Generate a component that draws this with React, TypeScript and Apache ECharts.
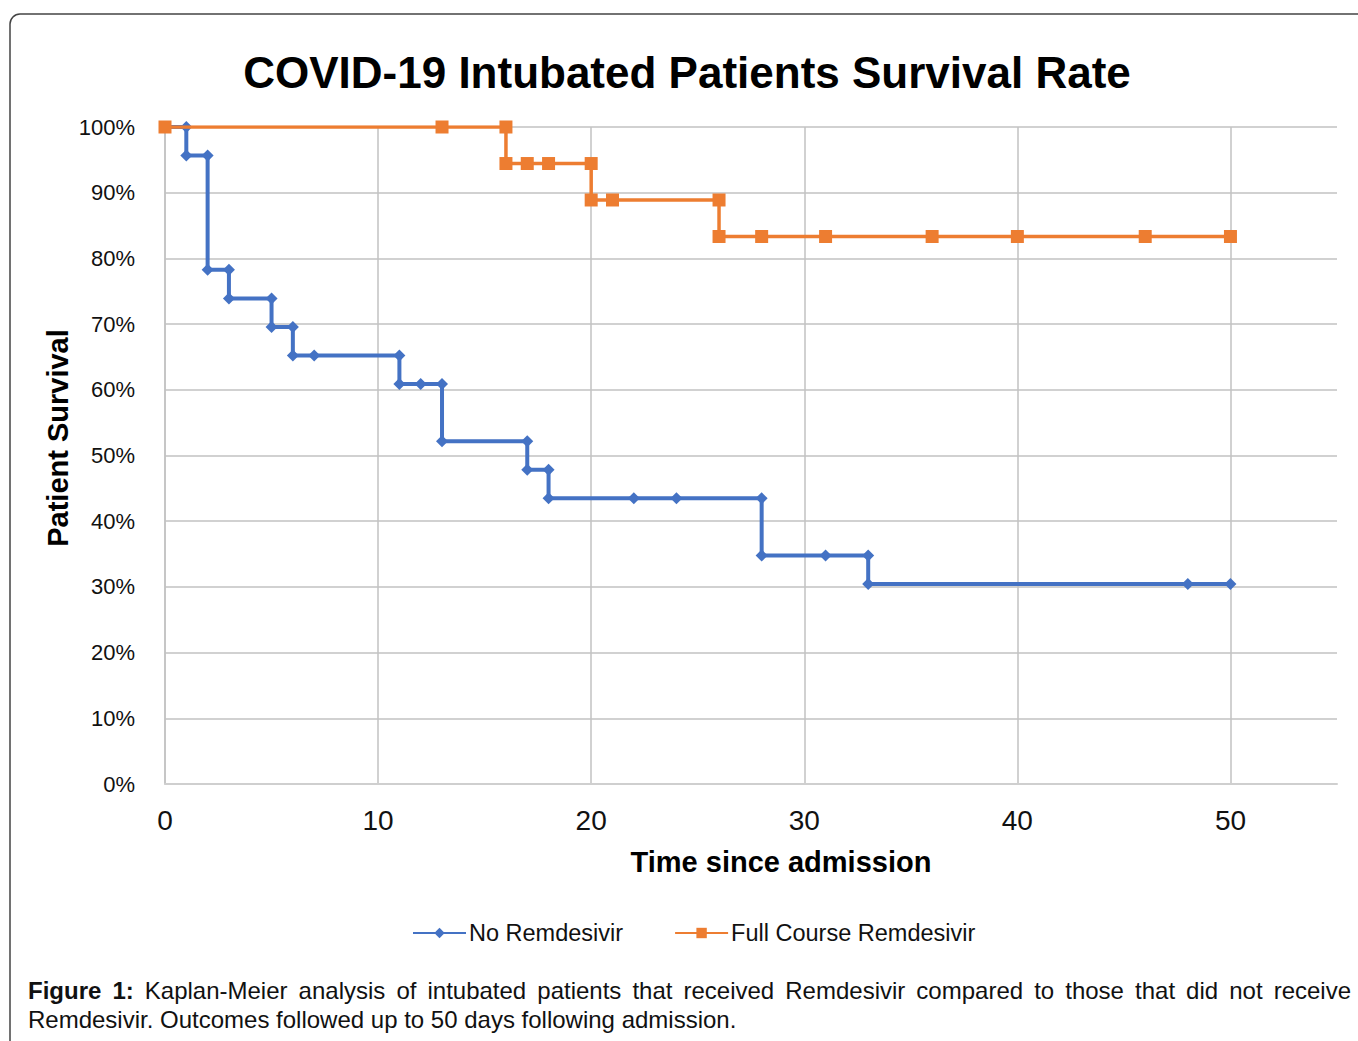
import React, { useEffect, useRef } from "react";
import * as echarts from "echarts";

const chartTitle = "COVID-19 Intubated Patients Survival Rate";
const xAxisTitle = "Time since admission";
const yAxisTitle = "Patient Survival";
const seriesNames = ["No Remdesivir", "Full Course Remdesivir"];

const noRemDays = [0, 1, 1, 2, 2, 3, 3, 5, 5, 6, 6, 7, 11, 11, 12, 13, 13, 17, 17, 18, 18, 22, 24, 28, 28, 31, 33, 33, 48, 50];
const noRemSurv = [100, 100, 95.65, 95.65, 78.26, 78.26, 73.91, 73.91, 69.57, 69.57, 65.22, 65.22, 65.22, 60.87, 60.87, 60.87, 52.17, 52.17, 47.83, 47.83, 43.48, 43.48, 43.48, 43.48, 34.78, 34.78, 34.78, 30.43, 30.43, 30.43];

const fullDays = [0, 13, 16, 16, 17, 18, 20, 20, 21, 26, 26, 28, 31, 36, 40, 46, 50];
const fullSurv = [100, 100, 100, 94.44, 94.44, 94.44, 94.44, 88.89, 88.89, 88.89, 83.33, 83.33, 83.33, 83.33, 83.33, 83.33, 83.33];

const xMin = 0;
const xMax = 55;
const xStep = 10;
const yMin = 0;
const yMax = 100;
const yStep = 10;

const captionBold = "Figure 1:";
const captionLine1 = "Kaplan-Meier analysis of intubated patients that received Remdesivir compared to those that did not receive";
const captionLine2 = "Remdesivir. Outcomes followed up to 50 days following admission.";

const FONT = "'Liberation Sans', Arial, Helvetica, sans-serif";

function buildCaption(): any[] {
  const size = 24;
  const left = 28;
  const right = 1351;
  const y1 = 990;
  const y2 = 1019;
  const canvas = document.createElement("canvas");
  const ctx = canvas.getContext("2d") as CanvasRenderingContext2D;
  const words: { t: string; bold: boolean; w: number }[] = [];
  captionBold.split(" ").forEach((t) => {
    ctx.font = `bold ${size}px ${FONT}`;
    words.push({ t, bold: true, w: ctx.measureText(t).width });
  });
  captionLine1.split(" ").forEach((t) => {
    ctx.font = `${size}px ${FONT}`;
    words.push({ t, bold: false, w: ctx.measureText(t).width });
  });
  const total = words.reduce((s, w) => s + w.w, 0);
  const gap = (right - left - total) / (words.length - 1);
  const els: any[] = [];
  let x = left;
  words.forEach((w) => {
    els.push({
      type: "text",
      x,
      y: y1,
      style: {
        text: w.t,
        font: `${w.bold ? "bold " : ""}${size}px ${FONT}`,
        fill: "#111",
        verticalAlign: "middle",
      },
    });
    x += w.w + gap;
  });
  els.push({
    type: "text",
    x: left,
    y: y2,
    style: {
      text: captionLine2,
      font: `${size}px ${FONT}`,
      fill: "#111",
      verticalAlign: "middle",
    },
  });
  return els;
}

export default function App() {
  const ref = useRef<HTMLDivElement>(null);
  useEffect(() => {
    if (!ref.current) return;
    const chart = echarts.init(ref.current, undefined, { renderer: "svg" });
    const blue = "#4472C4";
    const orange = "#ED7D31";
    const gridColor = "#c2c2c2";
    const option: any = {
      animation: false,
      backgroundColor: "#ffffff",
      textStyle: { fontFamily: FONT },
      grid: { left: 165, right: 21, top: 127, bottom: 257, containLabel: false },
      legend: {
        data: seriesNames,
        left: 412,
        top: 921,
        itemWidth: 53,
        itemHeight: 13,
        itemGap: 51,
        padding: 0,
        textStyle: { fontSize: 23.5, color: "#111", fontFamily: FONT, padding: [0, 0, 0, -2] },
      },
      xAxis: {
        type: "value",
        min: xMin,
        max: xMax,
        interval: xStep,
        axisLine: { show: true, lineStyle: { color: "#cfcfcf", width: 2 } },
        axisTick: { show: false },
        axisLabel: { fontSize: 28, color: "#111", margin: 22, showMaxLabel: false, fontFamily: FONT },
        splitLine: { show: true, showMaxLine: false, lineStyle: { color: gridColor, width: 1.5 } },
      },
      yAxis: {
        type: "value",
        min: yMin,
        max: yMax,
        interval: yStep,
        axisLine: { show: true, lineStyle: { color: gridColor, width: 1.5 } },
        axisTick: { show: false },
        axisLabel: { fontSize: 22, color: "#111", margin: 30, formatter: "{value}%", fontFamily: FONT },
        splitLine: { show: true, lineStyle: { color: gridColor, width: 1.5 } },
      },
      series: [
        {
          name: seriesNames[0],
          type: "line",
          data: noRemDays.map((d, i) => [d, noRemSurv[i]]),
          symbol: "diamond",
          symbolSize: 12,
          showAllSymbol: true,
          itemStyle: { color: blue },
          lineStyle: { color: blue, width: 4 },
          z: 2,
        },
        {
          name: seriesNames[1],
          type: "line",
          data: fullDays.map((d, i) => [d, fullSurv[i]]),
          symbol: "rect",
          symbolSize: 13,
          showAllSymbol: true,
          itemStyle: { color: orange },
          lineStyle: { color: orange, width: 3.5 },
          z: 3,
        },
      ],
      graphic: [
        {
          type: "rect",
          shape: { x: 10, y: 14, width: 1400, height: 1100, r: 10 },
          style: { fill: "none", stroke: "#444", lineWidth: 1.5 },
          silent: true,
          z: -10,
        },
        {
          type: "text",
          x: 687,
          y: 72,
          style: {
            text: chartTitle,
            font: `bold 44px ${FONT}`,
            fill: "#000",
            align: "center",
            verticalAlign: "middle",
          },
        },
        {
          type: "text",
          x: 781,
          y: 862,
          style: {
            text: xAxisTitle,
            font: `bold 29px ${FONT}`,
            fill: "#000",
            align: "center",
            verticalAlign: "middle",
          },
        },
        {
          type: "text",
          x: 58,
          y: 438,
          rotation: Math.PI / 2,
          style: {
            text: yAxisTitle,
            font: `bold 29px ${FONT}`,
            fill: "#000",
            align: "center",
            verticalAlign: "middle",
          },
        },
        ...buildCaption(),
      ],
    };
    chart.setOption(option);
    return () => chart.dispose();
  }, []);
  return (
    <div
      ref={ref}
      style={{ position: "absolute", left: 0, top: 0, width: 1358, height: 1041 }}
    />
  );
}
